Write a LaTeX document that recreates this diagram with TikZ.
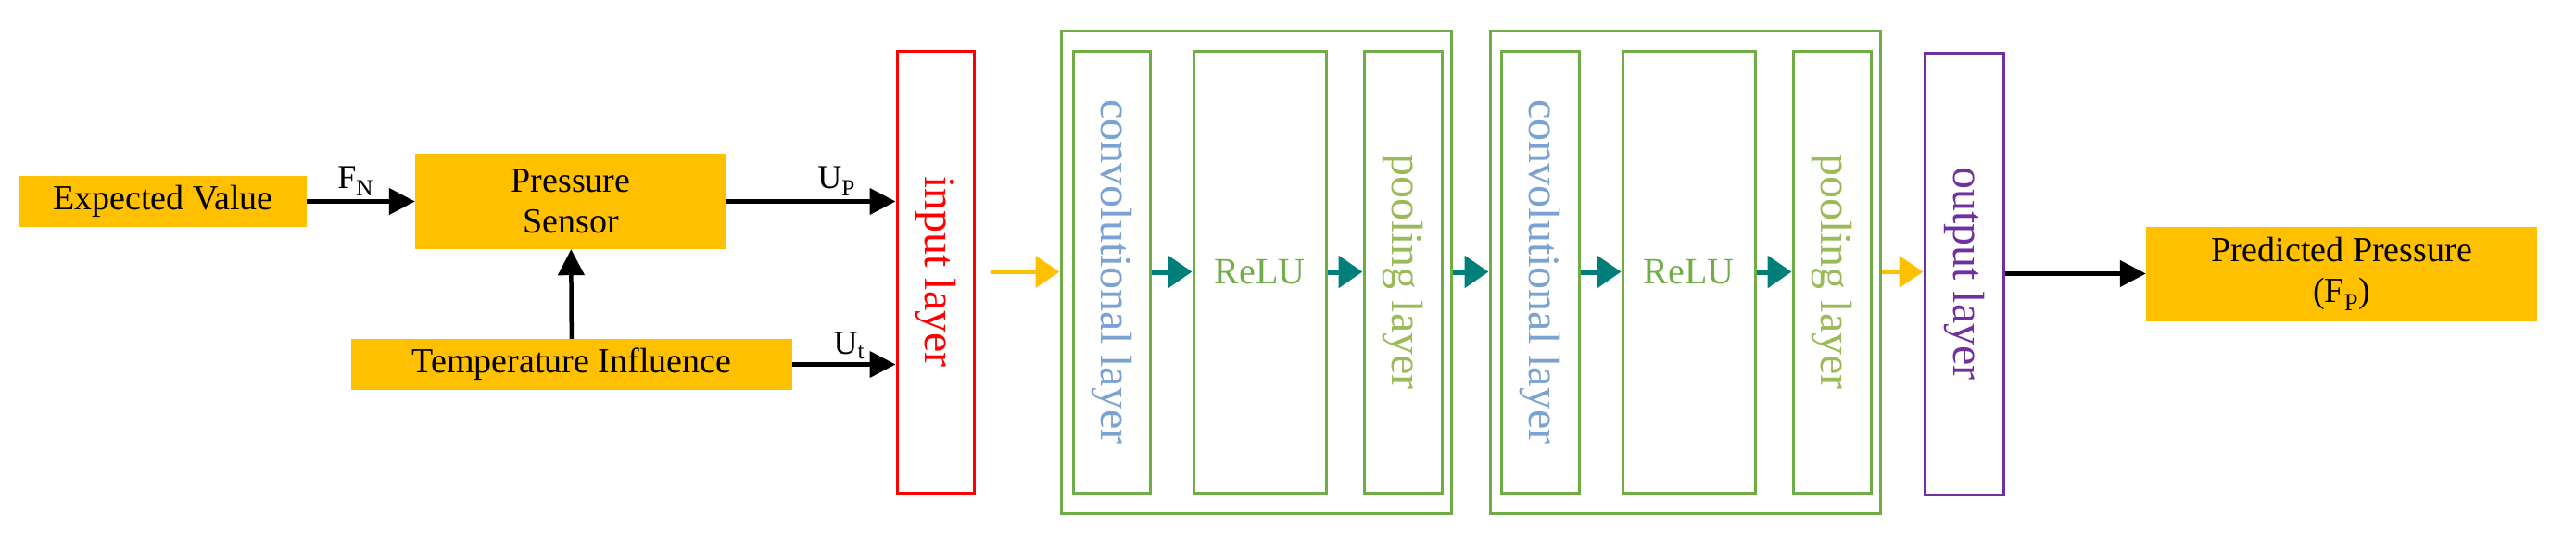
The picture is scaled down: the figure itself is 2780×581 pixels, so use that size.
\documentclass[tikz,border=0pt]{standalone}
\usepackage{fontspec}
\setmainfont{Liberation Serif}
\usetikzlibrary{arrows.meta,positioning}

\definecolor{boxfill}{HTML}{FFC000}
\definecolor{netgreen}{HTML}{70AD47}
\definecolor{convblue}{HTML}{7BA3D2}
\definecolor{poolgreen}{HTML}{9BBB59}
\definecolor{tealarrow}{HTML}{007F7A}
\definecolor{outpurple}{HTML}{7030A0}

\tikzset{
    block/.style={fill=boxfill, draw=none, inner sep=0pt, align=center,
        font=\fontsize{38}{44}\selectfont},
    layer/.style={draw, line width=3pt, inner sep=0pt, minimum width=83pt, minimum height=477pt},
    vtext/.style={rotate=-90, font=\fontsize{48}{54}\selectfont},
    sig/.style={-{Triangle[length=28pt,width=28pt]}, line width=4.5pt, black},
    flow/.style={-{Triangle[length=26pt,width=34pt]}, line width=6pt, tealarrow},
    feed/.style={-{Triangle[length=26pt,width=34pt]}, line width=4pt, boxfill}
}

\begin{document}
\begin{tikzpicture}[x=1pt,y=1pt]
    \useasboundingbox (0,0) rectangle (2780,-581);

    % sensor side
    \node[block, minimum width=310pt, minimum height=55pt] (ev) at (176,-217.5) {Expected Value};
    \node[block, minimum width=336pt, minimum height=103pt] (ps) at (616,-217.5) {Pressure\\Sensor};
    \node[block, minimum width=476pt, minimum height=55pt] (ti) at (617,-393.5) {Temperature Influence};

    % network
    \node[layer, draw=red] (in) at (1009.5,-293.5) {};
    \node[vtext, red] at (in.center) {input layer};

    \node[layer, draw=netgreen, minimum width=421pt, minimum height=521pt] (blk1) at (1355.5,-293.5) {};
    \node[layer, draw=netgreen] (conv1) at (1199.5,-293.5) {};
    \node[layer, draw=netgreen, minimum width=143pt] (relu1) at (1359.5,-293.5) {};
    \node[layer, draw=netgreen, minimum width=84pt] (pool1) at (1514,-293.5) {};
    \node[vtext, convblue] at (conv1.center) {convolutional layer};
    \node[font=\fontsize{40}{44}\selectfont, netgreen] at (relu1.center) {ReLU};
    \node[vtext, poolgreen] at (pool1.center) {pooling layer};

    \node[layer, draw=netgreen, minimum width=421pt, minimum height=521pt] (blk2) at (1818.5,-293.5) {};
    \node[layer, draw=netgreen, minimum width=84pt] (conv2) at (1662,-293.5) {};
    \node[layer, draw=netgreen, minimum width=143pt] (relu2) at (1822.5,-293.5) {};
    \node[layer, draw=netgreen, minimum width=84pt] (pool2) at (1977,-293.5) {};
    \node[vtext, convblue] at (conv2.center) {convolutional layer};
    \node[font=\fontsize{40}{44}\selectfont, netgreen] at (relu2.center) {ReLU};
    \node[vtext, poolgreen] at (pool2.center) {pooling layer};

    \node[layer, draw=outpurple, minimum width=85pt] (outl) at (2119.5,-295.5) {};
    \node[vtext, outpurple] at (outl.center) {output layer};

    \node[block, minimum width=422pt, minimum height=102pt] (pp) at (2527,-295.5) {Predicted Pressure\\(F\textsubscript{P})};

    \coordinate (feedin) at (1070,-293.5);

    % connectors
    \draw[sig] (ev) -- node[above, font=\fontsize{36}{40}\selectfont, pos=0.45] {F\textsubscript{N}} (ps);
    \draw[sig] (ps.east) -- node[above, font=\fontsize{36}{40}\selectfont, pos=0.65] {U\textsubscript{P}} (in.west |- ps.east);
    \draw[sig] (ti.east) -- node[above, font=\fontsize{36}{40}\selectfont, pos=0.55] {U\textsubscript{t}} (in.west |- ti.east);
    \draw[sig] (ti) -- (ps);
    \draw[feed] (feedin) -- (blk1.west);
    \draw[flow] (conv1) -- (relu1);
    \draw[flow] (relu1) -- (pool1);
    \draw[flow] (blk1) -- (blk2);
    \draw[flow] (conv2) -- (relu2);
    \draw[flow] (relu2) -- (pool2);
    \draw[feed] (blk2.east) -- (outl.west |- blk2.east);
    \draw[sig] (outl) -- (pp);
\end{tikzpicture}
\end{document}
